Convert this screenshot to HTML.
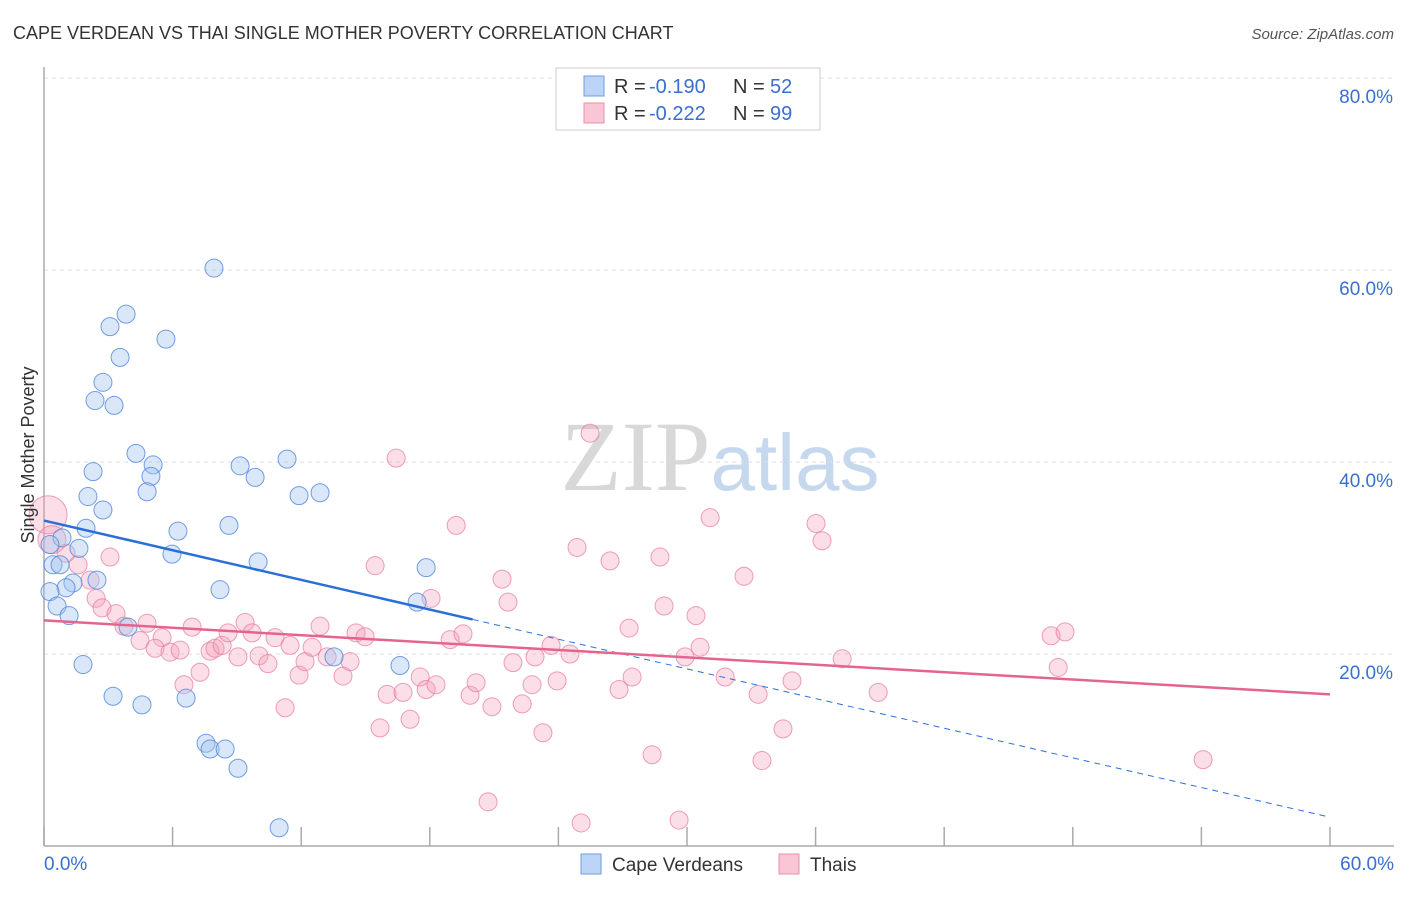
<!DOCTYPE html>
<html><head><meta charset="utf-8"><style>
body{margin:0;background:#fff;font-family:"Liberation Sans",sans-serif;}
svg text{font-family:"Liberation Sans",sans-serif;}
</style></head><body>
<svg id="chart" width="1406" height="892" xmlns="http://www.w3.org/2000/svg">
<text x="13" y="39" font-size="18" fill="#333">CAPE VERDEAN VS THAI SINGLE MOTHER POVERTY CORRELATION CHART</text>
<text x="1394" y="39" font-size="15" fill="#555" text-anchor="end" font-style="italic">Source: ZipAtlas.com</text>
<text x="720" y="490" font-size="100" text-anchor="middle"><tspan fill="#d8d8d8" font-family="Liberation Serif">ZIP</tspan><tspan fill="#c5d8ee" font-size="80">atlas</tspan></text>
<g id="grid"></g>
<g id="axes"></g>
<g id="marks"></g>
<text transform="translate(34,455) rotate(-90)" font-size="18" fill="#333" text-anchor="middle">Single Mother Poverty</text>
<g>
<rect x="556" y="68" width="264" height="62" fill="#fff" stroke="#ccc"/>
<rect x="584" y="76" width="20" height="20" fill="#bcd4f5" stroke="#6f9be0"/>
<text x="614" y="93" font-size="20" fill="#333">R =</text>
<text x="649" y="93" font-size="20" fill="#3a6fd0">-0.190</text>
<text x="733" y="93" font-size="20" fill="#333">N =</text>
<text x="770" y="93" font-size="20" fill="#3a6fd0">52</text>
<rect x="584" y="103" width="20" height="20" fill="#f8c6d4" stroke="#eb8fab"/>
<text x="614" y="120" font-size="20" fill="#333">R =</text>
<text x="649" y="120" font-size="20" fill="#3a6fd0">-0.222</text>
<text x="733" y="120" font-size="20" fill="#333">N =</text>
<text x="770" y="120" font-size="20" fill="#3a6fd0">99</text>
</g>
<g>
<rect x="581" y="854" width="20" height="20" fill="#bcd4f5" stroke="#6f9be0"/>
<text x="612" y="871" font-size="19" fill="#333">Cape Verdeans</text>
<rect x="779" y="854" width="20" height="20" fill="#f8c6d4" stroke="#eb8fab"/>
<text x="810" y="871" font-size="19" fill="#333">Thais</text>
</g>
</svg>
<script>
const blueX=[7.93,3.83,3.08,5.69,3.55,2.75,2.38,3.27,4.29,5.09,9.15,11.34,2.29,4.99,9.85,4.81,2.05,11.9,12.88,2.75,8.63,6.25,1.96,0.84,1.63,5.97,9.99,17.83,0.42,0.75,2.47,1.35,1.03,8.21,0.28,0.61,17.41,1.17,3.92,1.82,13.53,16.61,3.22,4.57,6.63,7.56,7.75,8.45,9.05,10.97,0.28];
const blueY=[60.2,55.4,54.1,52.8,50.9,48.3,46.4,45.9,40.9,39.7,39.6,40.3,39.0,38.5,38.4,36.9,36.4,36.5,36.8,35.0,33.4,32.8,33.1,32.1,31.0,30.4,29.6,29.0,29.3,29.3,27.7,27.4,26.9,26.7,26.5,25.0,25.4,24.0,22.8,18.9,19.7,18.8,15.6,14.7,15.4,10.7,10.1,10.1,8.1,1.9,31.4];
const pinkX=[0.19,0.37,1.03,1.59,3.08,2.15,2.43,2.71,3.36,3.73,4.81,4.48,5.51,5.18,5.88,6.35,6.91,7.28,6.53,7.75,7.98,8.31,8.59,9.38,9.71,9.05,10.03,10.45,10.78,11.25,11.48,11.9,12.18,12.51,12.88,13.21,13.95,14.28,14.56,14.98,15.45,15.68,16.01,16.43,16.75,17.08,17.55,17.83,18.29,18.95,19.23,19.55,19.88,20.16,20.72,20.9,21.37,21.65,21.88,22.31,22.77,22.91,23.28,23.66,23.94,24.54,24.87,25.06,25.48,26.41,26.83,27.3,27.44,28.37,28.74,28.93,29.63,29.91,30.42,30.61,31.08,31.78,32.66,33.32,33.5,34.48,34.9,36.02,36.3,37.24,38.92,46.99,47.32,47.64,54.08,18.06];
const pinkY=[34.5,31.9,30.5,29.3,30.1,27.7,25.8,24.8,24.2,22.9,23.2,21.4,21.7,20.6,20.2,20.4,22.8,18.1,16.8,20.3,20.6,20.9,22.2,23.3,22.2,19.7,19.8,19.0,21.7,14.4,20.9,17.8,19.2,20.7,22.9,19.7,17.7,19.2,22.2,21.8,29.2,12.3,15.8,40.4,16.0,13.2,17.6,16.3,16.8,21.5,33.4,22.1,15.7,17.0,4.6,14.5,27.8,25.4,19.1,14.8,16.8,19.7,11.8,20.9,17.2,20.0,31.1,2.4,43.0,29.7,16.3,22.7,17.6,9.5,30.1,25.0,2.7,19.7,24.0,20.7,34.2,17.6,28.1,15.8,8.9,12.2,17.2,33.6,31.8,19.5,16.0,21.9,18.6,22.3,9.0,25.8];
const pinkR=[19,14];
const yTicks=[20,40,60,80];
const yTickLabels=["20.0%","40.0%","60.0%","80.0%"];
const xTicks=[0,6,12,18,24,30,36,42,48,54,60];
const blueTrend=[33.9,3.0];
const pinkTrend=[23.5,15.8];
const blueSolidEnd=20;

const NS="http://www.w3.org/2000/svg";
const sx=v=>44+v*21.433;
const sy=v=>846-v*9.6;
function mk(parent,tag,attrs){const e=document.createElementNS(NS,tag);for(const k in attrs)e.setAttribute(k,attrs[k]);document.getElementById(parent).appendChild(e);return e;}
yTicks.forEach((t,i)=>{
  const g=mk('grid','line',{x1:44,x2:1394,y1:sy(t),y2:sy(t),stroke:'#ddd','stroke-dasharray':'4,4'});
  
  
  const l=mk('grid','text',{x:1393,y:sy(t)+25,'font-size':19,fill:'#3a6fd0','text-anchor':'end'});
  l.textContent=yTickLabels[i];
  
  
});
const ax=mk('axes','line',{x1:44,x2:44,y1:67,y2:846,stroke:'#aaa','stroke-width':1.5});


const bx=mk('axes','line',{x1:44,x2:1394,y1:846,y2:846,stroke:'#aaa','stroke-width':1.5});


xTicks.forEach(t=>{
  const tk=mk('axes','line',{x1:sx(t),x2:sx(t),y1:827,y2:846,stroke:'#aaa','stroke-width':1.5});
  
  
});
const x0=mk('axes','text',{x:44,y:870,'font-size':19,fill:'#3a6fd0'});x0.textContent=xTicks[0].toFixed(1)+'%';


const x1=mk('axes','text',{x:1394,y:870,'font-size':19,fill:'#3a6fd0','text-anchor':'end'});x1.textContent=xTicks[xTicks.length-1].toFixed(1)+'%';



pinkX.forEach((x,i)=>{
  const c=mk('marks','circle',{cx:sx(x),cy:sy(pinkY[i]),r:pinkR[i]||9,fill:'rgba(244,160,185,0.35)',stroke:'rgba(232,120,155,0.7)','stroke-width':1});
  
  
});
blueX.forEach((x,i)=>{
  const c=mk('marks','circle',{cx:sx(x),cy:sy(blueY[i]),r:9,fill:'rgba(160,195,240,0.4)',stroke:'rgba(80,135,220,0.8)','stroke-width':1});
  
  
});
const bAt=x=>blueTrend[0]+(blueTrend[1]-blueTrend[0])*x/60;
const bl=mk('marks','line',{x1:sx(0),y1:sy(blueTrend[0]),x2:sx(blueSolidEnd),y2:sy(bAt(blueSolidEnd)),stroke:'#2a6fd8','stroke-width':2.5});


const bd=mk('marks','line',{x1:sx(blueSolidEnd),y1:sy(bAt(blueSolidEnd)),x2:sx(60),y2:sy(blueTrend[1]),stroke:'#2a6fd8','stroke-width':1,'stroke-dasharray':'6,5'});


const pl=mk('marks','line',{x1:sx(0),y1:sy(pinkTrend[0]),x2:sx(60),y2:sy(pinkTrend[1]),stroke:'#e5648f','stroke-width':2.5});


</script>
</body></html>
